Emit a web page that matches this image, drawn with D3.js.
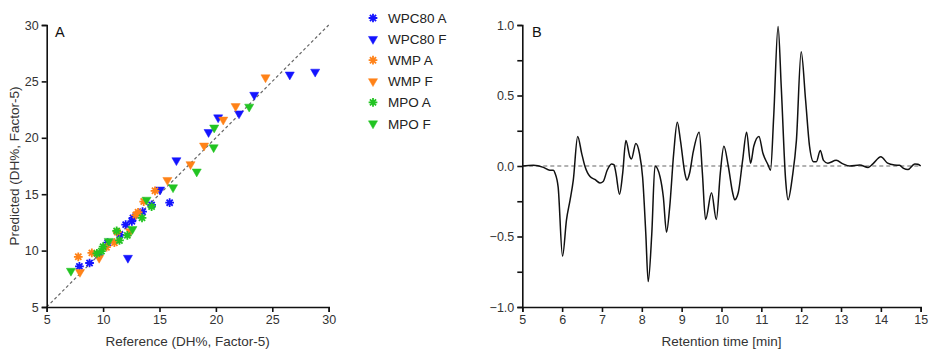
<!DOCTYPE html>
<html>
<head>
<meta charset="utf-8">
<script src="https://cdn.jsdelivr.net/npm/d3@7"></script>
<style>
  body { margin: 0; background: #fff; }
  svg { font-family: "Liberation Sans", Arial, sans-serif; }
  .tick text { font-size: 12.5px; fill: #333; }
  .axis path, .axis line { stroke: #111; }
</style>
</head>
<body>
<svg id="chart" width="931" height="349"></svg>
<script>
// ---- panel A data: [reference, predicted] ----
const seriesNames = ['WPC80 A', 'WPC80 F', 'WMP A', 'WMP F', 'MPO A', 'MPO F'];
const seriesColors = ['#1414ff', '#1414ff', '#ff8218', '#ff8218', '#22c422', '#22c422'];
const seriesShapes = ['asterisk', 'triangle', 'asterisk', 'triangle', 'asterisk', 'triangle'];

const wpc80A = [[7.9, 8.6], [8.8, 8.9], [9.6, 9.6], [10.4, 10.7], [11.5, 11.4], [12.0, 12.3],
  [12.55, 12.6], [12.65, 12.9], [13.5, 13.45], [14.3, 14.05], [15.9, 14.25]];
const wpc80F = [[12.2, 9.35], [15.05, 15.4], [16.5, 18.0], [19.35, 20.5], [20.2, 21.8],
  [22.05, 22.15], [23.4, 23.8], [26.55, 25.6], [28.8, 25.85]];
const wmpA = [[7.8, 9.45], [9.0, 9.8], [10.3, 10.3], [11.0, 10.7], [11.25, 11.65],
  [12.9, 13.15], [13.1, 13.4], [13.6, 14.35], [14.6, 15.3]];
const wmpF = [[7.95, 8.1], [9.65, 9.35], [12.4, 11.7], [15.7, 16.25], [17.75, 17.65],
  [18.95, 19.3], [20.65, 21.6], [21.75, 22.8], [24.4, 25.35]];
const mpoA = [[9.45, 9.75], [9.85, 9.95], [10.0, 10.35], [11.2, 11.75], [11.45, 10.9],
  [12.15, 11.35], [13.45, 12.9], [14.3, 13.9]];
const mpoF = [[7.15, 8.2], [10.5, 10.85], [12.6, 11.9], [13.85, 14.5], [16.2, 15.6],
  [18.3, 17.0], [19.8, 19.15], [19.85, 20.9], [22.95, 22.75]];
const seriesData = [wpc80A, wpc80F, wmpA, wmpF, mpoA, mpoF];

const scatterTicks = [5, 10, 15, 20, 25, 30];

// ---- panel B data: retention time [min] vs loading ----
const retTime = [5.0, 5.28, 5.53, 5.69, 5.78, 5.82, 5.9, 6.01, 6.11, 6.2, 6.28, 6.39, 6.49, 6.57,
  6.7, 6.82, 6.95, 7.03, 7.13, 7.24, 7.3, 7.35, 7.44, 7.52, 7.6, 7.7, 7.74, 7.85, 7.94, 8.02,
  8.1, 8.16, 8.25, 8.33, 8.46, 8.54, 8.62, 8.7, 8.8, 8.89, 8.97, 9.08, 9.13, 9.2, 9.29, 9.44,
  9.52, 9.6, 9.75, 9.87, 9.97, 10.06, 10.17, 10.28, 10.33, 10.42, 10.53, 10.63, 10.73, 10.81,
  10.94, 11.04, 11.17, 11.23, 11.31, 11.42, 11.5, 11.61, 11.67, 11.78, 11.88, 12.0, 12.11,
  12.21, 12.31, 12.38, 12.48, 12.56, 12.67, 12.88, 13.05, 13.22, 13.47, 13.68, 13.8, 14.0,
  14.17, 14.34, 14.47, 14.57, 14.68, 14.85, 14.93, 15.0];
const loading = [0.0, 0.005, -0.01, -0.03, -0.03, -0.05, -0.15, -0.64, -0.38, -0.24, -0.1, 0.21,
  0.09, 0.0, -0.075, -0.095, -0.12, -0.11, -0.03, 0.015, 0.01, -0.05, -0.2, -0.05, 0.18, 0.065,
  0.05, 0.16, 0.09, -0.08, -0.48, -0.82, -0.48, 0.0, -0.08, -0.22, -0.47, -0.29, 0.09, 0.31,
  0.18, -0.05, -0.1, -0.05, 0.1, 0.24, -0.05, -0.38, -0.19, -0.38, -0.05, 0.14, 0.0, -0.19,
  -0.24, -0.19, 0.04, 0.24, 0.02, 0.14, 0.21, 0.09, 0.007, -0.03, 0.35, 0.99, 0.56, -0.1,
  -0.24, -0.075, 0.18, 0.81, 0.47, 0.14, 0.03, 0.03, 0.11, 0.04, 0.02, 0.04, 0.015, 0.0,
  0.007, -0.01, 0.015, 0.065, 0.02, 0.007, 0.005, -0.017, -0.025, 0.015, 0.012, 0.0];

const timeTicks = [5, 6, 7, 8, 9, 10, 11, 12, 13, 14, 15];
const loadingTicks = [-1.0, -0.5, 0.0, 0.5, 1.0];
const loadingMinorTicks = [-1.0, -0.75, -0.5, -0.25, 0.0, 0.25, 0.5, 0.75, 1.0];

const svg = d3.select('#chart');

// ================= panel A =================
const xA = d3.scaleLinear().domain([5, 30]).range([46.7, 328.7]);
const yA = d3.scaleLinear().domain([5, 30]).range([307, 25]);

// y = x reference line
svg.append('line')
  .attr('x1', xA(5)).attr('y1', yA(5))
  .attr('x2', xA(30)).attr('y2', yA(30))
  .attr('stroke', '#666')
  .attr('stroke-width', 1.2)
  .attr('stroke-dasharray', '3,2.5');

// 8-spoke asterisk marker
const asteriskType = {
  draw(context, size) {
    const r = Math.sqrt(size) / 2;
    for (let i = 0; i < 4; i++) {
      const a = i * Math.PI / 4;
      context.moveTo(-r * Math.cos(a), -r * Math.sin(a));
      context.lineTo(r * Math.cos(a), r * Math.sin(a));
    }
  }
};
const asteriskPath = d3.symbol().type(asteriskType).size(76)();
const trianglePath = d3.symbol().type(d3.symbolTriangle).size(36)();

seriesData.forEach((pts, i) => {
  const g = svg.append('g');
  g.selectAll('path')
    .data(pts)
    .join('path')
    .attr('transform', d => seriesShapes[i] === 'triangle'
      ? `translate(${xA(d[0])},${yA(d[1])}) rotate(180)`
      : `translate(${xA(d[0])},${yA(d[1])})`)
    .attr('d', seriesShapes[i] === 'triangle' ? trianglePath : asteriskPath)
    .attr('fill', seriesShapes[i] === 'triangle' ? seriesColors[i] : 'none')
    .attr('stroke', seriesColors[i])
    .attr('stroke-width', seriesShapes[i] === 'triangle' ? 0.5 : 1.8);
});

svg.append('g')
  .attr('class', 'axis')
  .attr('transform', `translate(0,${yA(5)})`)
  .call(d3.axisBottom(xA).tickValues(scatterTicks).tickSizeOuter(0).tickSize(5).tickPadding(3))
  .call(g => g.selectAll('path, line').attr('stroke-width', 1.6));

svg.append('g')
  .attr('class', 'axis')
  .attr('transform', `translate(${xA(5)},0)`)
  .call(d3.axisLeft(yA).tickValues(scatterTicks).tickSizeOuter(0).tickSize(5).tickPadding(3))
  .call(g => g.selectAll('path, line').attr('stroke-width', 1.6));

svg.append('text')
  .attr('x', (xA(5) + xA(30)) / 2).attr('y', 346)
  .attr('text-anchor', 'middle')
  .attr('font-size', 13.5).attr('fill', '#333')
  .text('Reference (DH%, Factor-5)');

svg.append('text')
  .attr('transform', `translate(19,${(yA(5) + yA(30)) / 2}) rotate(-90)`)
  .attr('text-anchor', 'middle')
  .attr('font-size', 13.5).attr('fill', '#333')
  .text('Predicted (DH%, Factor-5)');

svg.append('text')
  .attr('x', 55).attr('y', 37)
  .attr('font-size', 14.5).attr('fill', '#111')
  .text('A');

// legend
const legend = svg.append('g').attr('transform', 'translate(373,18)');
seriesNames.forEach((name, i) => {
  const row = legend.append('g').attr('transform', `translate(0,${i * 21.1})`);
  row.append('path')
    .attr('transform', seriesShapes[i] === 'triangle' ? 'rotate(180)' : null)
    .attr('d', seriesShapes[i] === 'triangle' ? trianglePath : asteriskPath)
    .attr('fill', seriesShapes[i] === 'triangle' ? seriesColors[i] : 'none')
    .attr('stroke', seriesColors[i])
    .attr('stroke-width', seriesShapes[i] === 'triangle' ? 0.5 : 1.8);
  row.append('text')
    .attr('x', 15).attr('y', 5)
    .attr('font-size', 13.5).attr('fill', '#222')
    .text(name);
});

// ================= panel B =================
const xB = d3.scaleLinear().domain([5, 15]).range([522.3, 920.7]);
const yB = d3.scaleLinear().domain([-1, 1]).range([307, 25]);

svg.append('line')
  .attr('x1', xB(5)).attr('y1', yB(0))
  .attr('x2', xB(15)).attr('y2', yB(0))
  .attr('stroke', '#666')
  .attr('stroke-width', 1.2)
  .attr('stroke-dasharray', '4,3');

const line = d3.line()
  .x((d, i) => xB(retTime[i]))
  .y(d => yB(d))
  .curve(d3.curveMonotoneX);

svg.append('path')
  .datum(loading)
  .attr('d', line)
  .attr('fill', 'none')
  .attr('stroke', '#111')
  .attr('stroke-width', 1.5);

svg.append('g')
  .attr('class', 'axis')
  .attr('transform', `translate(0,${yB(-1)})`)
  .call(d3.axisBottom(xB).tickValues(timeTicks).tickFormat(d3.format('d')).tickSizeOuter(0).tickSize(5).tickPadding(3))
  .call(g => g.selectAll('path, line').attr('stroke-width', 1.6));

svg.append('g')
  .attr('class', 'axis')
  .attr('transform', `translate(${xB(5)},0)`)
  .call(d3.axisLeft(yB).tickValues(loadingMinorTicks).tickSizeOuter(0).tickSize(5).tickPadding(3)
    .tickFormat(d => loadingTicks.includes(d) ? d3.format('.1f')(d) : ''))
  .call(g => g.selectAll('path, line').attr('stroke-width', 1.6));

svg.append('text')
  .attr('x', (xB(5) + xB(15)) / 2).attr('y', 346)
  .attr('text-anchor', 'middle')
  .attr('font-size', 13.5).attr('fill', '#333')
  .text('Retention time [min]');

svg.append('text')
  .attr('x', 532).attr('y', 37)
  .attr('font-size', 14.5).attr('fill', '#111')
  .text('B');
</script>
</body>
</html>
